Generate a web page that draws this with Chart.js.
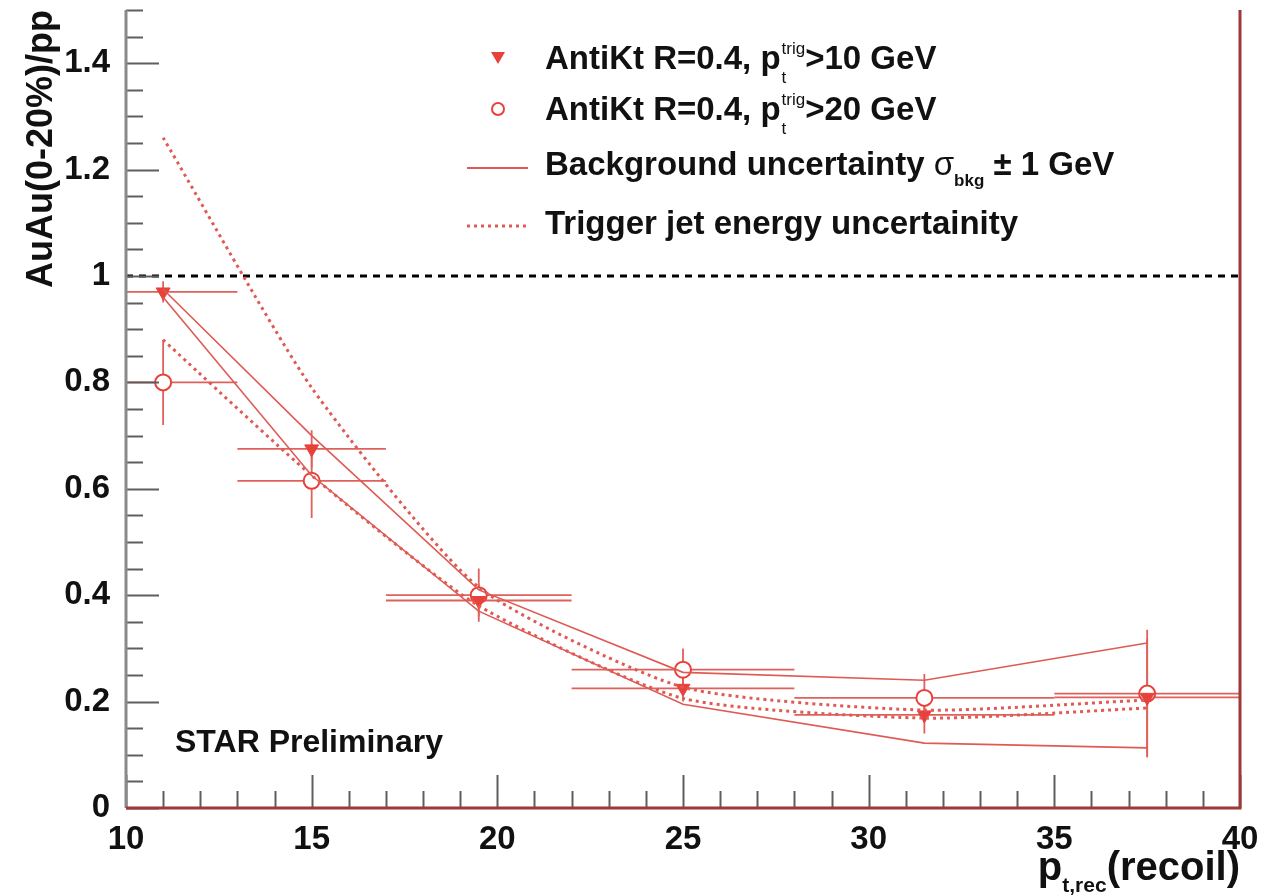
<!DOCTYPE html>
<html>
<head>
<meta charset="utf-8">
<script src="https://cdn.jsdelivr.net/npm/chart.js@4/dist/chart.umd.min.js"></script>
<style>
  body { margin: 0; background: #fff; }
  canvas { display: block; }
</style>
</head>
<body>
<canvas id="ratioChart" width="1269" height="896"></canvas>
<script>
// bin centres and edges in p_t,rec (GeV)
const ptCenters = [11, 15, 19.5, 25, 31.5, 37.5];
const binLow    = [10, 13, 17, 22, 28, 35];
const binHigh   = [13, 17, 22, 28, 35, 40];

// AuAu/pp, p_t^trig > 10 GeV (filled triangles)
const trig10    = [0.97, 0.675, 0.39, 0.225, 0.175, 0.208];
const trig10Err = [0.02, 0.035, 0.03, 0.025, 0.035, 0.11];

// AuAu/pp, p_t^trig > 20 GeV (open circles)
const trig20    = [0.80, 0.615, 0.40, 0.26, 0.207, 0.215];
const trig20Err = [0.08, 0.07, 0.05, 0.04, 0.045, 0.12];

// background uncertainty band (solid) and trigger jet energy band (dotted)
const bkgHigh  = [0.975, 0.70, 0.41, 0.255, 0.24, 0.31];
const bkgLow   = [0.96, 0.625, 0.37, 0.195, 0.122, 0.113];
const jesHigh  = [1.26, 0.79, 0.415, 0.227, 0.184, 0.203];
const jesLow   = [0.88, 0.625, 0.38, 0.206, 0.169, 0.188];

// reference line at unity
const unityX = [10, 40];
const unityY = [1, 1];

const RED  = '#e8403a';
const LINE = '#e05a54';
const FONT = "'Liberation Sans', Arial, Helvetica, sans-serif";

const pts = (xs, ys) => xs.map((x, i) => ({ x, y: ys[i] }));

// error bars under the markers
const errorBars = {
  id: 'errorBars',
  beforeDatasetsDraw(chart) {
    const { ctx, scales: { x, y } } = chart;
    ctx.save();
    ctx.strokeStyle = '#de615c';
    ctx.lineWidth = 1.8;
    [[trig10, trig10Err], [trig20, trig20Err]].forEach(([vals, errs]) => {
      vals.forEach((v, i) => {
        const py = y.getPixelForValue(v);
        const px = x.getPixelForValue(ptCenters[i]);
        ctx.beginPath();
        ctx.moveTo(x.getPixelForValue(binLow[i]), py);
        ctx.lineTo(x.getPixelForValue(binHigh[i]), py);
        ctx.moveTo(px, y.getPixelForValue(v - errs[i]));
        ctx.lineTo(px, y.getPixelForValue(v + errs[i]));
        ctx.stroke();
      });
    });
    ctx.restore();
  }
};

function richText(ctx, x, y, parts) {
  parts.forEach(p => {
    ctx.font = p.font;
    ctx.fillText(p.t, x, y + (p.dy || 0));
    if (!p.stack) x += ctx.measureText(p.t).width;
  });
  return x;
}

// ROOT-like frame: inward ticks, coloured borders, legend and labels
const frame = {
  id: 'frame',
  afterDraw(chart) {
    const { ctx, chartArea: a, scales: { x, y } } = chart;
    ctx.save();

    // y ticks
    ctx.strokeStyle = '#5e5e5e';
    ctx.lineWidth = 2;
    for (let k = 0; k <= 30; k++) {
      const v = k * 0.05;
      const len = k % 4 === 0 ? 33 : 17;
      const py = Math.round(y.getPixelForValue(v)) + 0.5;
      ctx.beginPath();
      ctx.moveTo(a.left, py);
      ctx.lineTo(a.left + len, py);
      ctx.stroke();
    }
    // x ticks
    for (let v = 10; v <= 40; v++) {
      const len = v % 5 === 0 ? 33 : 17;
      const px = Math.round(x.getPixelForValue(v)) + 0.5;
      ctx.beginPath();
      ctx.moveTo(px, a.bottom);
      ctx.lineTo(px, a.bottom - len);
      ctx.stroke();
    }

    // borders
    ctx.lineWidth = 3;
    ctx.strokeStyle = '#8a8a8a';
    ctx.beginPath();
    ctx.moveTo(a.left, a.top);
    ctx.lineTo(a.left, a.bottom);
    ctx.stroke();
    ctx.strokeStyle = '#9b3a36';
    ctx.beginPath();
    ctx.moveTo(a.left, a.bottom);
    ctx.lineTo(a.right, a.bottom);
    ctx.lineTo(a.right, a.top);
    ctx.stroke();

    // legend
    ctx.fillStyle = RED;
    ctx.beginPath();
    ctx.moveTo(491, 52); ctx.lineTo(505, 52); ctx.lineTo(498, 64);
    ctx.closePath();
    ctx.fill();
    ctx.strokeStyle = RED;
    ctx.lineWidth = 2;
    ctx.beginPath();
    ctx.arc(498, 109, 6, 0, Math.PI * 2);
    ctx.stroke();
    ctx.strokeStyle = LINE;
    ctx.beginPath();
    ctx.moveTo(467, 168); ctx.lineTo(528, 168);
    ctx.stroke();
    ctx.setLineDash([3, 4]);
    ctx.lineWidth = 3;
    ctx.beginPath();
    ctx.moveTo(467, 226); ctx.lineTo(528, 226);
    ctx.stroke();
    ctx.setLineDash([]);

    const big = 'bold 33px ' + FONT;
    const small = '17px ' + FONT;
    ctx.fillStyle = '#111';
    ctx.textBaseline = 'alphabetic';
    ['>10 GeV', '>20 GeV'].forEach((tail, r) => {
      const by = 69 + r * 51;
      const cx = richText(ctx, 545, by, [{ t: 'AntiKt R=0.4, p', font: big }]);
      ctx.font = small;
      const w = ctx.measureText('trig').width;
      richText(ctx, cx + 1, by, [
        { t: 'trig', font: small, dy: -15, stack: true },
        { t: 't', font: small, dy: 14, stack: true }
      ]);
      richText(ctx, cx + w + 1, by, [{ t: tail, font: big }]);
    });
    richText(ctx, 545, 175, [
      { t: 'Background uncertainty ', font: big },
      { t: 'σ', font: '33px ' + FONT },
      { t: 'bkg', font: 'bold 17px ' + FONT, dy: 11 },
      { t: ' ± 1 GeV', font: big }
    ]);
    richText(ctx, 545, 234, [{ t: 'Trigger jet energy uncertainity', font: big }]);

    // STAR label
    ctx.font = 'bold 32px ' + FONT;
    ctx.fillText('STAR Preliminary', 175, 752);

    // x axis title, right aligned to the frame
    const tf = 'bold 40px ' + FONT, sf = 'bold 21px ' + FONT;
    ctx.font = tf;
    let tw = ctx.measureText('p(recoil)').width;
    ctx.font = sf;
    tw += ctx.measureText('t,rec').width;
    richText(ctx, a.right - tw, 880, [
      { t: 'p', font: tf },
      { t: 't,rec', font: sf, dy: 12 },
      { t: '(recoil)', font: tf }
    ]);

    ctx.restore();
  }
};

const tickFont = { family: FONT, size: 33, weight: 'bold' };

new Chart(document.getElementById('ratioChart'), {
  type: 'scatter',
  data: {
    datasets: [
      {
        data: pts(ptCenters, bkgHigh), showLine: true, borderColor: LINE,
        borderWidth: 1.6, pointRadius: 0, fill: false
      },
      {
        data: pts(ptCenters, bkgLow), showLine: true, borderColor: LINE,
        borderWidth: 1.6, pointRadius: 0, fill: false
      },
      {
        data: pts(ptCenters, jesHigh), showLine: true, borderColor: LINE,
        borderWidth: 3, borderDash: [3, 4], pointRadius: 0, fill: false, tension: 0.2
      },
      {
        data: pts(ptCenters, jesLow), showLine: true, borderColor: LINE,
        borderWidth: 3, borderDash: [3, 4], pointRadius: 0, fill: false, tension: 0.2
      },
      {
        data: pts(unityX, unityY), showLine: true, borderColor: '#000',
        borderWidth: 3, borderDash: [7, 6], pointRadius: 0, fill: false
      },
      {
        data: pts(ptCenters, trig10), pointStyle: 'triangle', rotation: 180,
        pointRadius: 8, backgroundColor: RED, borderColor: RED, borderWidth: 1
      },
      {
        data: pts(ptCenters, trig20), pointStyle: 'circle',
        pointRadius: 8, backgroundColor: '#fff', borderColor: RED, borderWidth: 2
      }
    ]
  },
  options: {
    responsive: false,
    animation: false,
    layout: { padding: { left: 8, top: 8, right: 29, bottom: 0 } },
    plugins: { legend: { display: false }, tooltip: { enabled: false } },
    scales: {
      x: {
        type: 'linear', min: 10, max: 40,
        grid: { display: false, drawTicks: false },
        border: { display: false },
        ticks: { stepSize: 5, padding: 12, color: '#111', font: tickFont },
        afterFit(s) {
          s.height = 88;
          s.paddingLeft = 0;
          s.paddingRight = 0;
        }
      },
      y: {
        type: 'linear', min: 0, max: 1.5,
        grid: { display: false, drawTicks: false },
        border: { display: false },
        ticks: {
          stepSize: 0.2, includeBounds: false, padding: 16, color: '#111',
          font: tickFont,
          callback: v => String(+v.toFixed(1))
        },
        title: {
          display: true, text: 'AuAu(0-20%)/pp', align: 'end', color: '#111',
          padding: { top: 12, bottom: 0 },
          font: { family: FONT, size: 36, weight: 'bold' }
        },
        afterFit(s) {
          s.width = 118;
          s.paddingTop = 0;
          s.paddingBottom = 0;
        }
      }
    }
  },
  plugins: [errorBars, frame]
});
</script>
</body>
</html>
